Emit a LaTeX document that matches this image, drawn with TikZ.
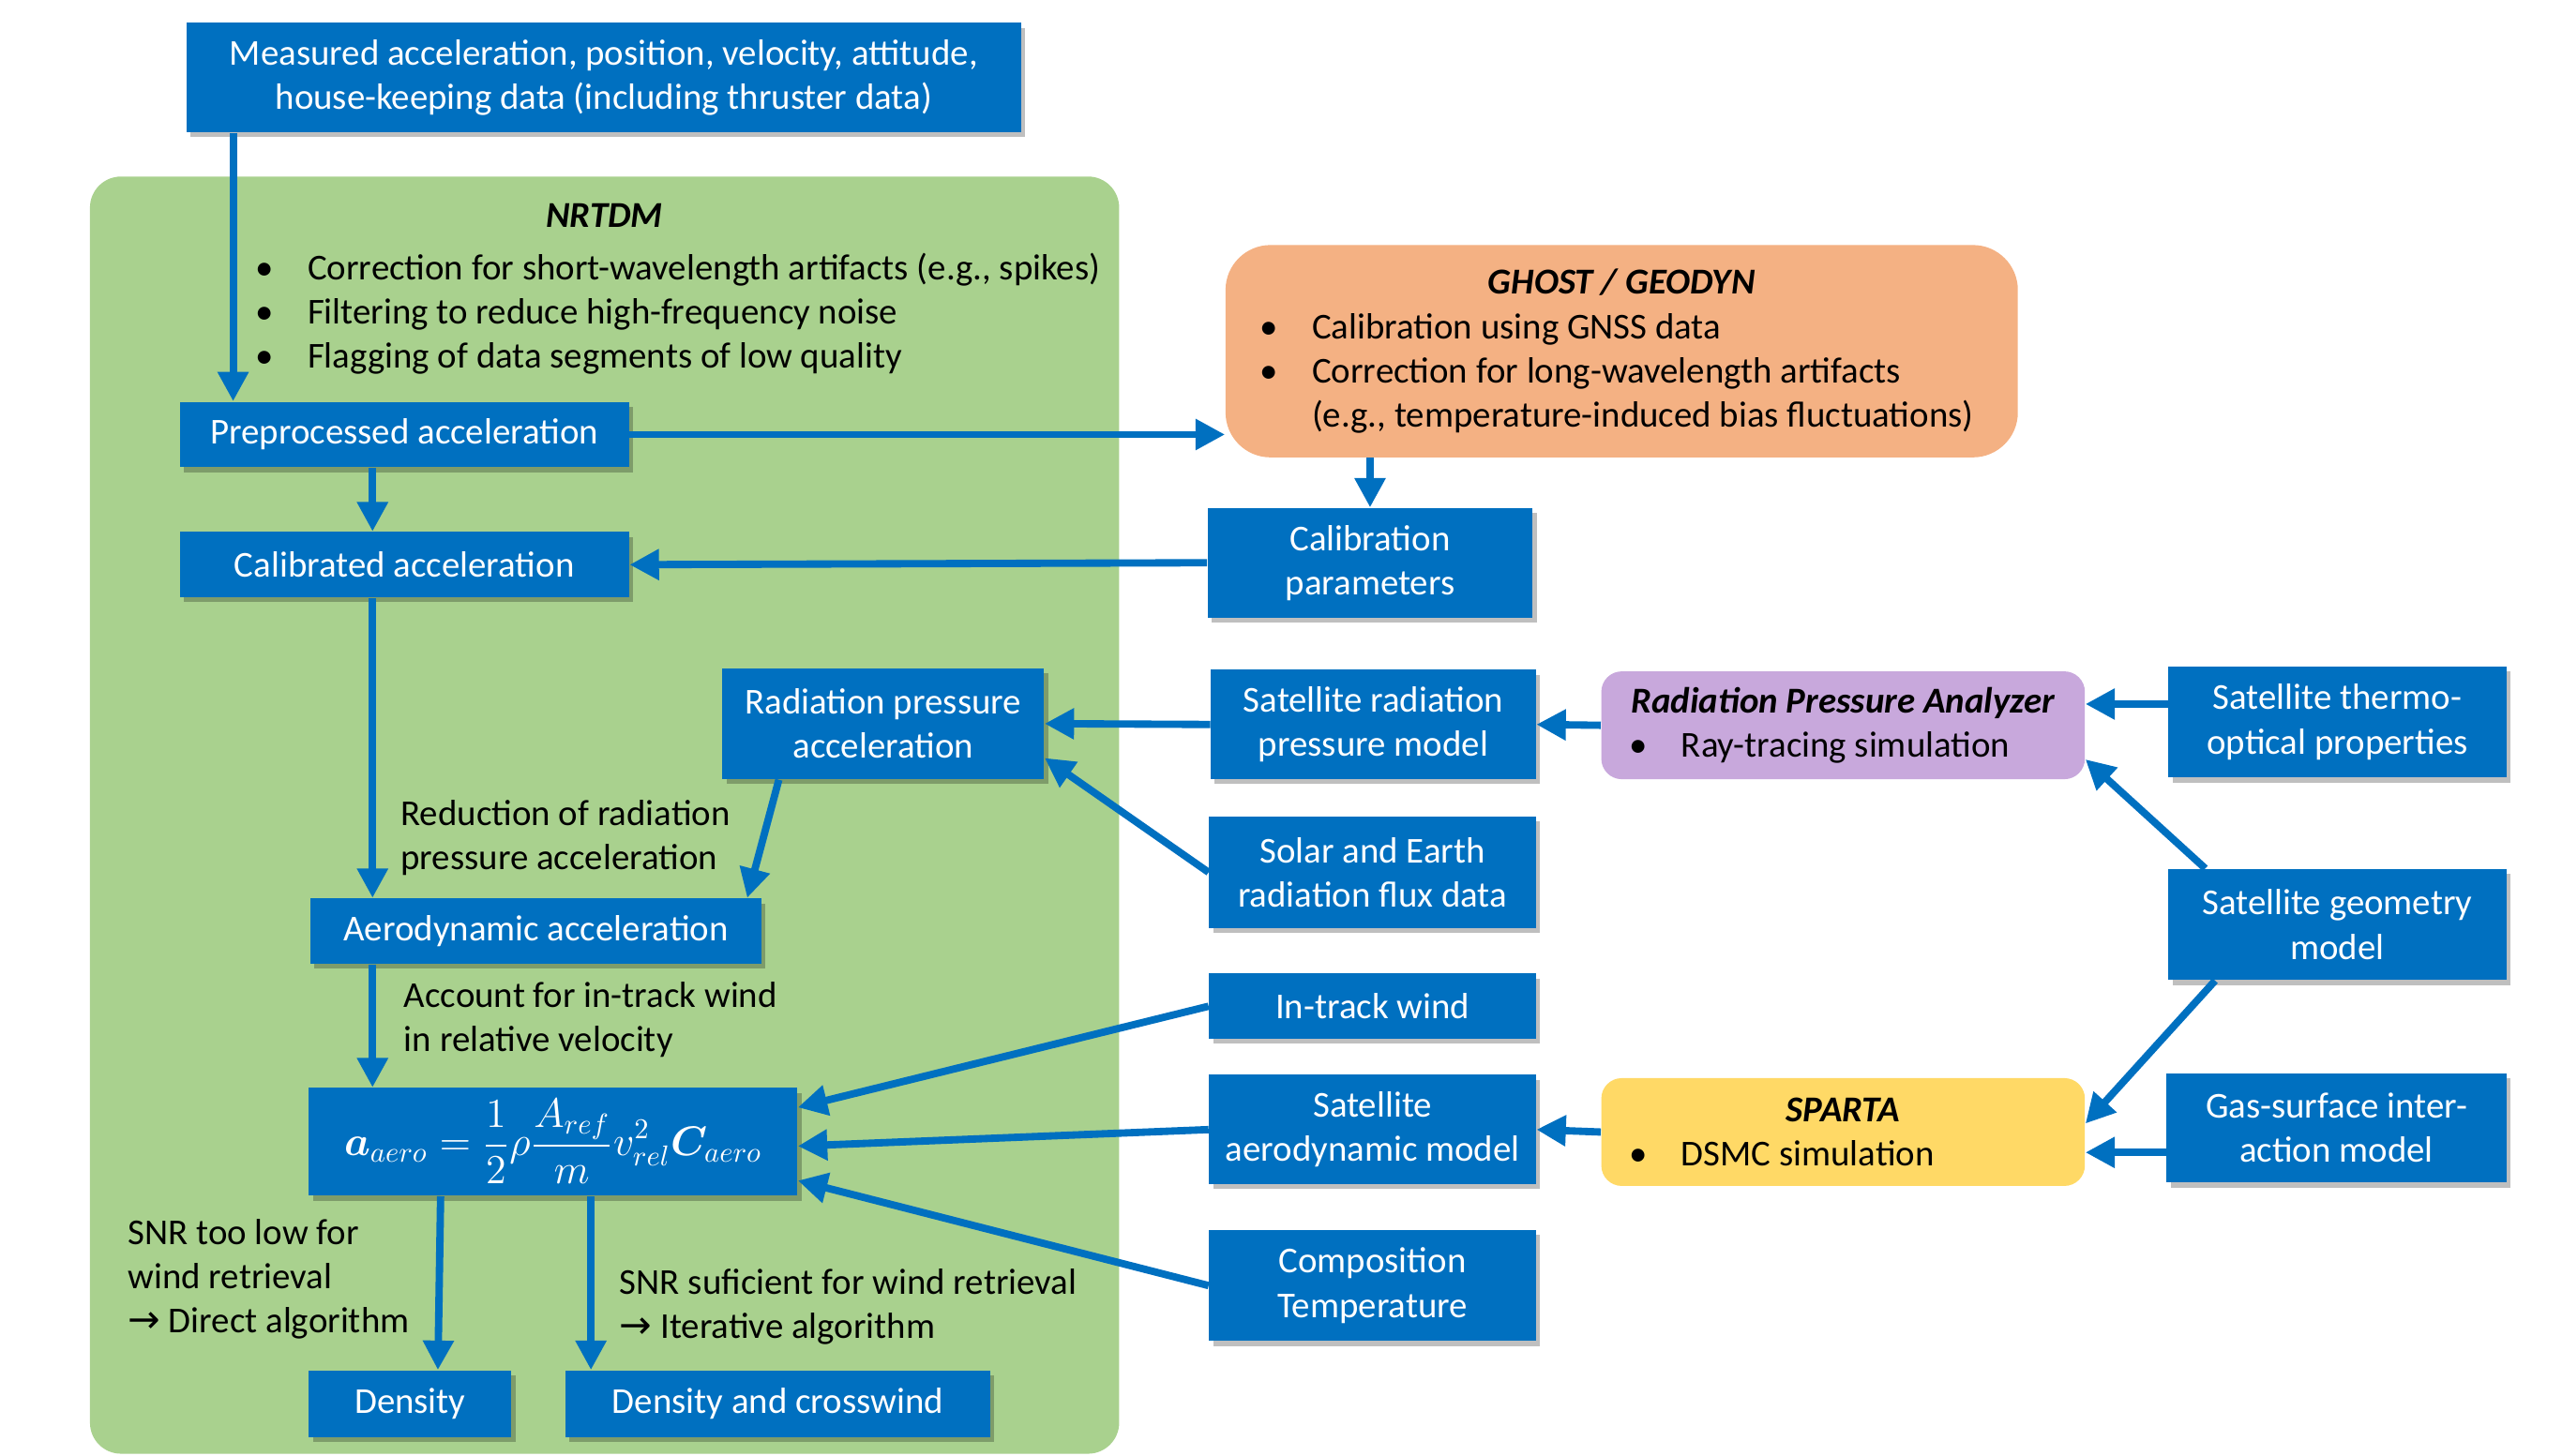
\documentclass[tikz,border=0pt]{standalone}
\usepackage{fontspec}
\setmainfont{Carlito}
\newfontfamily\arrowfont{DejaVu Sans}
\usepackage{amsmath,bm}
\usetikzlibrary{arrows.meta,positioning,calc,shadows}
\definecolor{boxblue}{RGB}{0,112,192}
\definecolor{arrowblue}{RGB}{0,112,192}
\definecolor{nrtdmgreen}{RGB}{169,209,142}
\definecolor{ghostorange}{RGB}{244,177,131}
\definecolor{rpapurple}{RGB}{200,168,220}
\definecolor{spartayellow}{RGB}{255,217,102}
\newcommand{\diagfont}{\fontsize{12.7}{15.4}\selectfont}
\newcommand{\bitem}[1]{\makebox[0.64cm][l]{\textbullet}#1}
\newcommand{\thenarrow}{{\arrowfont\fontsize{13.5}{15.4}\selectfont →}}
\tikzset{
  basebox/.style={rectangle,inner sep=0pt,align=center,font=\diagfont},
  bluebox/.style={basebox,fill=boxblue,text=white,
    drop shadow={shadow xshift=0.05cm,shadow yshift=-0.06cm,fill=black,opacity=0.25}},
  toolbox/.style={basebox,align=flush left,text=black,inner ysep=0pt},
  ghostbox/.style={toolbox,fill=ghostorange,rounded corners=0.55cm,inner xsep=0.42cm,
    text width=8.86cm,minimum height=2.6cm},
  rpabox/.style={toolbox,fill=rpapurple,rounded corners=0.25cm,inner xsep=0.34cm,
    text width=5.24cm,minimum height=1.32cm},
  spartabox/.style={toolbox,fill=spartayellow,rounded corners=0.25cm,inner xsep=0.34cm,
    text width=5.24cm,minimum height=1.32cm},
  greenbg/.style={rectangle,fill=nrtdmgreen,rounded corners=0.38cm},
  lbl/.style={align=left,inner sep=0pt,font=\diagfont},
  arr/.style={-{Triangle[length=0.36cm,width=0.36cm]},line width=0.09cm,draw=arrowblue}
}

\begin{document}
\begin{tikzpicture}[x=0.02cm,y=-0.02cm]
  \useasboundingbox (0,0) rectangle (1568,891);

  % NRTDM area
  \node[greenbg,minimum width=12.6cm,minimum height=15.64cm] (nrtdm) at (370,499) {};
  \node[font=\diagfont\bfseries\itshape] (nrtdmTitle) at (370,132) {NRTDM};
  \node[lbl,anchor=west] (nrtdmList) at (156,192)
    {\bitem{Correction for short-wavelength artifacts (e.g., spikes)}\\
     \bitem{Filtering to reduce high-frequency noise}\\
     \bitem{Flagging of data segments of low quality}};

  \node[bluebox,minimum width=10.22cm,minimum height=1.34cm] (meas) at (369.5,47.5)
    {Measured acceleration, position, velocity, attitude,\\house-keeping data (including thruster data)};

  \node[bluebox,minimum width=5.5cm,minimum height=0.8cm] (prep) at (247.5,266) {Preprocessed acceleration};
  \node[bluebox,minimum width=5.5cm,minimum height=0.8cm,below=0.78cm of prep] (calib) {Calibrated acceleration};

  \node[ghostbox] (ghost) at (992.5,215)
    {\makebox[\linewidth][c]{\bfseries\itshape GHOST / GEODYN}\\
     \bitem{Calibration using GNSS data}\\
     \bitem{Correction for long-wavelength artifacts}\\
     \hspace*{0.64cm}(e.g., temperature-induced bias fluctuations)};
  \node[bluebox,minimum width=3.98cm,minimum height=1.34cm] (calpar) at (838.5,344.5) {Calibration\\parameters};

  \node[bluebox,minimum width=3.94cm,minimum height=1.36cm] (radacc) at (540.5,443) {Radiation pressure\\acceleration};
  \node[bluebox,minimum width=3.98cm,minimum height=1.34cm] (satrad) at (840.5,443.5) {Satellite radiation\\pressure model};
  \node[rpabox] (rpa) at (1128,444)
    {\makebox[\linewidth][c]{\bfseries\itshape Radiation Pressure Analyzer}\\
     \bitem{Ray-tracing simulation}};
  \node[bluebox,minimum width=4.14cm,minimum height=1.36cm] (thermo) at (1430.5,442) {Satellite thermo-\\optical properties};
  \node[bluebox,minimum width=4.0cm,minimum height=1.36cm] (flux) at (840,534) {Solar and Earth\\radiation flux data};
  \node[bluebox,minimum width=4.14cm,minimum height=1.36cm] (geom) at (1430.5,566) {Satellite geometry\\model};

  \node[bluebox,minimum width=5.52cm,minimum height=0.8cm] (aero) at (328,570) {Aerodynamic acceleration};
  \node[bluebox,minimum width=4.0cm,minimum height=0.8cm] (wind) at (840,616) {In-track wind};
  \node[bluebox,minimum width=5.98cm,minimum height=1.32cm,font=\fontsize{14}{17}\selectfont] (formula) at (338.5,699)
    {$\displaystyle\bm{a}_{aero}=\frac{1}{2}\rho\frac{A_{ref}}{m}v_{rel}^{2}\bm{C}_{aero}$};
  \node[bluebox,minimum width=4.0cm,minimum height=1.34cm] (sataero) at (840,691.5) {Satellite\\aerodynamic model};
  \node[spartabox] (sparta) at (1128,693)
    {\makebox[\linewidth][c]{\bfseries\itshape SPARTA}\\
     \bitem{DSMC simulation}};
  \node[bluebox,minimum width=4.16cm,minimum height=1.34cm] (gas) at (1430,690.5) {Gas-surface inter-\\action model};
  \node[bluebox,minimum width=4.0cm,minimum height=1.36cm] (comp) at (840,787) {Composition\\Temperature};

  \node[bluebox,minimum width=2.48cm,minimum height=0.82cm] (dens) at (251,859.5) {Density};
  \node[bluebox,minimum width=5.2cm,minimum height=0.82cm] (denscw) at (476,859.5) {Density and crosswind};

  % labels on the arrows
  \node[lbl,anchor=west] (redLbl) at (245,513) {Reduction of radiation\\pressure acceleration};
  \node[lbl,anchor=west] (windLbl) at (247,624) {Account for in-track wind\\in relative velocity};
  \node[lbl,anchor=west] (lowLbl) at (78,783) {SNR too low for\\wind retrieval\\\thenarrow\ Direct algorithm};
  \node[lbl,anchor=west] (highLbl) at (379,800) {SNR suficient for wind retrieval\\\thenarrow\ Iterative algorithm};

  % connectors
  \coordinate (spine) at ([xshift=-0.39cm]prep.south);
  \coordinate (measOut) at ([xshift=0.66cm]prep.north west);
  \coordinate (thermoOut) at ([yshift=0.22cm]thermo.west);
  \coordinate (gasOut) at ([yshift=-0.3cm]gas.west);
  \coordinate (cwIn) at ([xshift=0.32cm]denscw.north west);

  \draw[arr] (measOut |- meas.south) -- (measOut);
  \draw[arr] (prep.south -| spine) -- (calib.north -| spine);
  \draw[arr] (prep.east) -- (prep.east -| ghost.west);
  \draw[arr] (calpar.north |- ghost.south) -- (calpar.north);
  \draw[arr] (calpar.west) -- (calib.east);
  \draw[arr] (calib.south -| spine) -- (aero.north -| spine);
  \draw[arr] ([xshift=0.7cm]radacc.south west) -- ([xshift=-0.18cm]aero.north east);
  \draw[arr] (satrad.west) -- (radacc.east);
  \draw[arr] (flux.west) -- (radacc.-12);
  \draw[arr] (rpa.west) -- (satrad.east);
  \draw[arr] (thermoOut) -- (thermoOut -| rpa.east);
  \draw[arr] ([xshift=0.46cm]geom.north west) -- (rpa.-8);
  \draw[arr] ([xshift=0.58cm]geom.south west) -- (sparta.2);
  \draw[arr] (gasOut) -- (gasOut -| sparta.east);
  \draw[arr] (sparta.west) -- (sataero.east);
  \draw[arr] (aero.south -| spine) -- (formula.north -| spine);
  \draw[arr] (wind.west) -- (formula.8);
  \draw[arr] (sataero.west) -- (formula.-1);
  \draw[arr] (comp.west) -- (formula.-9);
  \draw[arr] ([xshift=1.62cm]formula.south west) -- ([xshift=0.34cm]dens.north);
  \draw[arr] (cwIn |- formula.south) -- (cwIn);
\end{tikzpicture}
\end{document}
